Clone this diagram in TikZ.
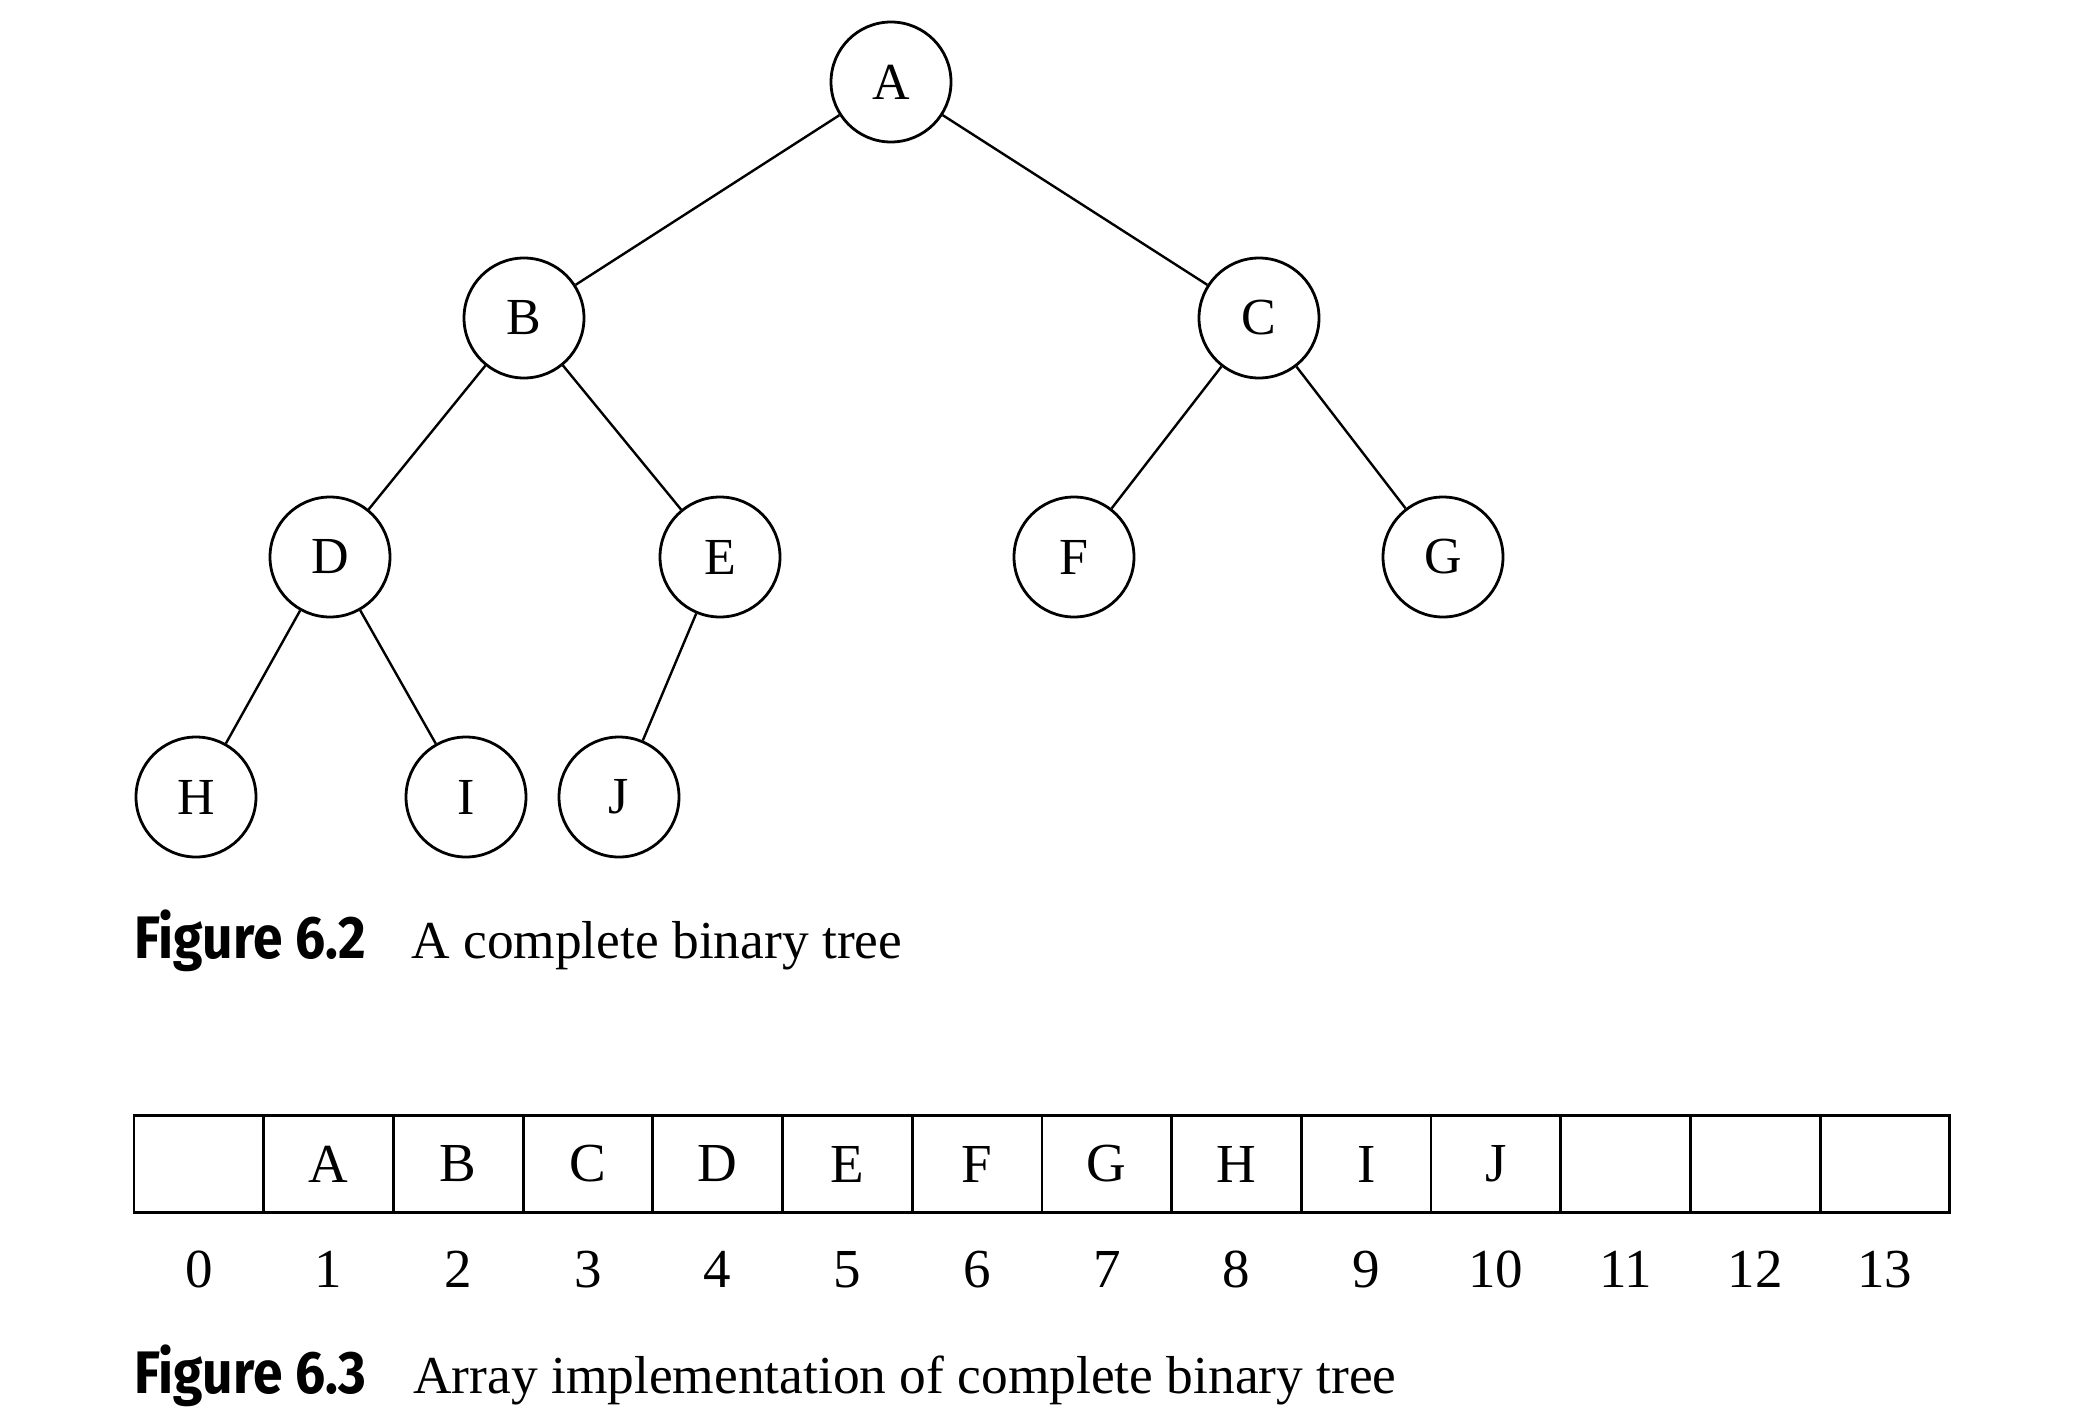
\documentclass[tikz,border=0pt]{standalone}
\usepackage{fontspec}
\setmainfont{Liberation Serif}
\newfontfamily\capfont[FakeStretch=0.89]{Fira Sans}
\begin{document}
\begin{tikzpicture}[x=0.5pt,y=-0.5pt,
  tn/.style={circle,draw,line width=1.4pt,minimum size=60pt,inner sep=0pt,font=\fontsize{26}{30}\selectfont},
  edge/.style={line width=1.2pt},
  cell/.style={draw,line width=1.4pt,minimum width=64.85pt,minimum height=48.5pt,inner sep=0pt,outer sep=0pt,font=\fontsize{27.5}{32}\selectfont},
  idx/.style={anchor=base,inner sep=0pt,font=\fontsize{27.5}{32}\selectfont},
  capb/.style={anchor=base west,inner sep=0pt,font=\capfont\bfseries\fontsize{30}{36}\selectfont},
  capt/.style={anchor=base west,inner sep=0pt,font=\fontsize{26.7}{32}\selectfont}]
\path[use as bounding box] (0,0) rectangle (2080,1408);
% tree
\node[tn] (A) at (891,82) {A};
\node[tn] (B) at (524,318) {B};
\node[tn] (C) at (1259,318) {C};
\node[tn] (D) at (330,557) {D};
\node[tn] (E) at (720,557) {E};
\node[tn] (F) at (1074,557) {F};
\node[tn] (G) at (1443,557) {G};
\node[tn] (H) at (196,797) {H};
\node[tn] (I) at (466,797) {I};
\node[tn] (J) at (619,797) {J};
\draw[edge] (A) -- (B);
\draw[edge] (A) -- (C);
\draw[edge] (B) -- (D);
\draw[edge] (B) -- (E);
\draw[edge] (C) -- (F);
\draw[edge] (C) -- (G);
\draw[edge] (D) -- (H);
\draw[edge] (D) -- (I);
\draw[edge] (E) -- (J);
% caption 6.2
\node[capb] (cap1) at (134,958) {Figure 6.2};
\node[capt] (cap1t) at (411,958) {A complete binary tree};
% array
\foreach \i/\t in {0/,1/A,2/B,3/C,4/D,5/E,6/F,7/G,8/H,9/I,10/J,11/,12/,13/}{
  \node[cell] (c\i) at ({134+129.7*(\i+0.5)},1164) {\t};
  \node[idx] (i\i) at ({134+129.7*(\i+0.5)},1287) {\i};
}
% caption 6.3
\node[capb] (cap2) at (134,1393) {Figure 6.3};
\node[capt] (cap2t) at (413,1393) {Array implementation of complete binary tree};
\end{tikzpicture}
\end{document}
